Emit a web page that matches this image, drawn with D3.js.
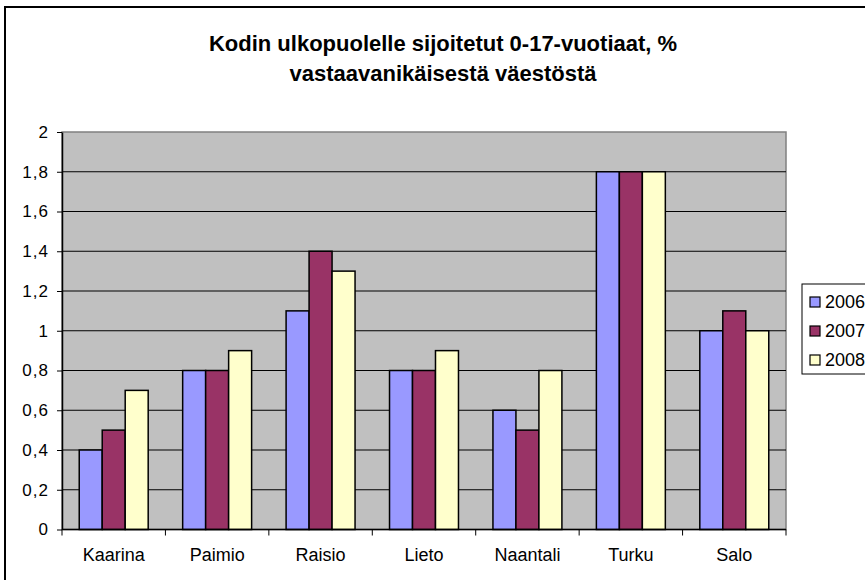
<!DOCTYPE html>
<html>
<head>
<meta charset="utf-8">
<script src="https://cdn.jsdelivr.net/npm/d3@7"></script>
<style>
    body { margin: 0; background: #fff; }
    svg { display: block; font-family: Arial, "Liberation Sans", sans-serif; }
</style>
</head>
<body>
<svg id="chart"></svg>
<script>
const categories = ['Kaarina', 'Paimio', 'Raisio', 'Lieto', 'Naantali', 'Turku', 'Salo'];
const years = ['2006', '2007', '2008'];
const values2006 = [0.4, 0.8, 1.1, 0.8, 0.6, 1.8, 1.0];
const values2007 = [0.5, 0.8, 1.4, 0.8, 0.5, 1.8, 1.1];
const values2008 = [0.7, 0.9, 1.3, 0.9, 0.8, 1.8, 1.0];
const yTicks = [0, 0.2, 0.4, 0.6, 0.8, 1, 1.2, 1.4, 1.6, 1.8, 2];
const colors = ['#9999ff', '#993366', '#ffffcc'];
const titleLines = ['Kodin ulkopuolelle sijoitetut 0-17-vuotiaat, %', 'vastaavanikäisestä väestöstä'];

class GroupedBarChart {

    constructor( config, data ){
        this.config = {
            parent: config.parent,
            width: config.width || 256,
            height: config.height || 256,
            margin: config.margin || {top:10, right:10, bottom:10, left:10}
        }
        this.data = data;
        this.init();
    }

    init(){
        let self = this;

        self.svg = d3.select( self.config.parent )
            .attr('width', self.config.width)
            .attr('height', self.config.height);

        // outer chart frame (runs off the right / bottom edge)
        self.svg.append('rect')
            .attr('x', 5)
            .attr('y', 7)
            .attr('width', 900)
            .attr('height', 620)
            .attr('fill', 'none')
            .attr('stroke', '#000')
            .attr('stroke-width', 2);

        self.chart = self.svg.append('g')
            .attr('transform', `translate(${self.config.margin.left}, ${self.config.margin.top})`);

        self.inner_width = self.config.width - self.config.margin.left - self.config.margin.right;
        self.inner_height = self.config.height - self.config.margin.top - self.config.margin.bottom;

        self.xscale = d3.scaleBand()
            .domain( categories )
            .range( [0, self.inner_width] );

        self.subscale = d3.scaleBand()
            .domain( years )
            .range( [0, self.xscale.bandwidth()] )
            .paddingInner(0)
            .paddingOuter(0.75);

        self.yscale = d3.scaleLinear()
            .domain( [0, 2] )
            .range( [self.inner_height, 0] );

        self.title = self.svg.append('g');
        titleLines.forEach((t, i) => {
            self.title.append('text')
                .attr('x', 443)
                .attr('y', 51 + i * 30)
                .attr('text-anchor', 'middle')
                .style('font-size', '22px')
                .style('font-weight', 'bold')
                .text(t);
        });
    }

    render(){
        let self = this;

        // plot background
        self.chart.append('rect')
            .attr('width', self.inner_width)
            .attr('height', self.inner_height)
            .attr('fill', '#c0c0c0')
            .attr('stroke', '#808080')
            .attr('stroke-width', 1.5);

        // gridlines
        self.chart.append('g')
            .selectAll('line')
            .data(yTicks.filter(d => d > 0 && d < 2))
            .join('line')
            .attr('x1', 0)
            .attr('x2', self.inner_width)
            .attr('y1', d => self.yscale(d))
            .attr('y2', d => self.yscale(d))
            .attr('stroke', '#000')
            .attr('stroke-width', 1);

        // bars
        self.chart.append('g')
            .selectAll('g')
            .data(self.data)
            .join('g')
            .attr('transform', d => `translate(${self.xscale(d.name)}, 0)`)
            .selectAll('rect')
            .data(d => d.values)
            .join('rect')
            .attr('x', d => self.subscale(d.year))
            .attr('y', d => self.yscale(d.value))
            .attr('width', self.subscale.bandwidth())
            .attr('height', d => self.inner_height - self.yscale(d.value))
            .attr('fill', (d, i) => colors[i])
            .attr('stroke', '#000')
            .attr('stroke-width', 1.5);

        // y axis
        const yaxis = d3.axisLeft( self.yscale )
            .tickValues( yTicks )
            .tickSize(5)
            .tickSizeOuter(0)
            .tickPadding(8)
            .tickFormat( d => String(d).replace('.', ',') );

        self.chart.append('g')
            .call( yaxis )
            .call(g => g.selectAll('text')
                .style('font-size', '17px')
                .style('letter-spacing', '1px')
                .attr('fill', '#000')
                .style('font-family', 'Arial, "Liberation Sans", sans-serif'))
            .call(g => g.select('.domain').attr('stroke-width', 1.5));

        // x axis: ticks between categories
        const xaxis_group = self.chart.append('g')
            .attr('transform', `translate(0, ${self.inner_height})`);

        xaxis_group.append('line')
            .attr('x1', 0)
            .attr('x2', self.inner_width)
            .attr('stroke', '#000')
            .attr('stroke-width', 1.5);

        xaxis_group.selectAll('.tick')
            .data(categories)
            .join('line')
            .attr('class', 'tick')
            .attr('x1', d => self.xscale(d) + self.xscale.bandwidth())
            .attr('x2', d => self.xscale(d) + self.xscale.bandwidth())
            .attr('y1', 0)
            .attr('y2', 6)
            .attr('stroke', '#000');

        xaxis_group.append('line')
            .attr('x1', 0)
            .attr('x2', 0)
            .attr('y1', 0)
            .attr('y2', 6)
            .attr('stroke', '#000');

        xaxis_group.selectAll('text')
            .data(categories)
            .join('text')
            .attr('x', d => self.xscale(d) + self.xscale.bandwidth() / 2)
            .attr('y', 31)
            .attr('text-anchor', 'middle')
            .style('font-size', '18px')
            .text(d => d);

        // legend
        const legend = self.svg.append('g')
            .attr('transform', 'translate(802, 284)');

        legend.append('rect')
            .attr('width', 100)
            .attr('height', 90)
            .attr('fill', '#fff')
            .attr('stroke', '#000')
            .attr('stroke-width', 1);

        const items = legend.selectAll('g')
            .data(years)
            .join('g')
            .attr('transform', (d, i) => `translate(8, ${18 + i * 29})`);

        items.append('rect')
            .attr('x', 0)
            .attr('y', -5)
            .attr('width', 10)
            .attr('height', 10)
            .attr('fill', (d, i) => colors[i])
            .attr('stroke', '#000')
            .attr('stroke-width', 1.2);

        items.append('text')
            .attr('x', 15)
            .attr('y', 6)
            .style('font-size', '18px')
            .text(d => d);
    }
}

const data = categories.map((name, i) => ({
    name: name,
    values: [
        {year: years[0], value: values2006[i]},
        {year: years[1], value: values2007[i]},
        {year: years[2], value: values2008[i]}
    ]
}));

const chart = new GroupedBarChart({
    parent: '#chart',
    width: 865,
    height: 580,
    margin: {top: 132, right: 79, bottom: 50.5, left: 62}
}, data);
chart.render();
</script>
</body>
</html>
